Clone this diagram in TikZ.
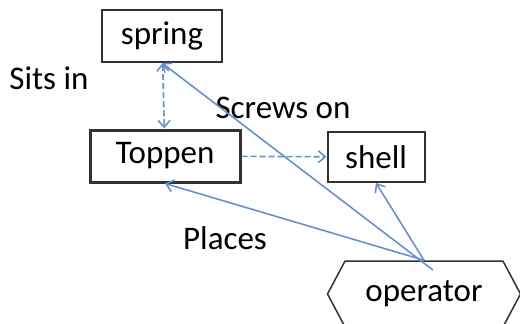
\documentclass[tikz,border=0pt]{standalone}
\usepackage{fontspec}
\setmainfont{Carlito}
\usetikzlibrary{arrows.meta,shapes.symbols}
\definecolor{linkblue}{RGB}{104,144,204}
\definecolor{edgegray}{RGB}{50,50,50}

\begin{document}
\begin{tikzpicture}[x=1pt,y=-1pt,>={Straight Barb[length=7pt,width=12pt]},
    font=\fontsize{33}{38}\selectfont,
    box/.style={rectangle,draw=edgegray,line width=2pt,inner sep=0pt,minimum height=52pt},
    rel/.style={draw=linkblue,line width=1.6pt,->},
    dep/.style={rel,dash pattern=on 6pt off 3pt}]
      \useasboundingbox (0,0) rectangle (520,324);

      \node[box,minimum width=120pt] (spring) at (162,36) {spring};
      \node[box,minimum width=150pt,line width=3pt] (toppen) at (165,156) {Toppen};
      \node[box,minimum width=97pt,minimum height=50pt] (shell) at (376,157) {shell};
      \node[draw=edgegray,line width=1.5pt,signal,signal to=west and east,signal pointer angle=124,
        minimum width=193pt,minimum height=66pt,inner sep=0pt] (operator) at (424,294) {operator};

      \node (sitsin) at (49,78) {Sits in};
      \node (screws) at (283,108) {Screws on};
      \node (places) at (225,238) {Places};

      \coordinate (opin) at (433,270);
      \draw[dep,<->] (spring) -- (toppen);
      \draw[dep] (toppen) -- (shell);
      \draw[rel] (opin) -- (spring.south);
      \draw[rel] (operator.north) -- (toppen.south);
      \draw[rel] (operator.north) -- (shell.south);
    \end{tikzpicture}
\end{document}
